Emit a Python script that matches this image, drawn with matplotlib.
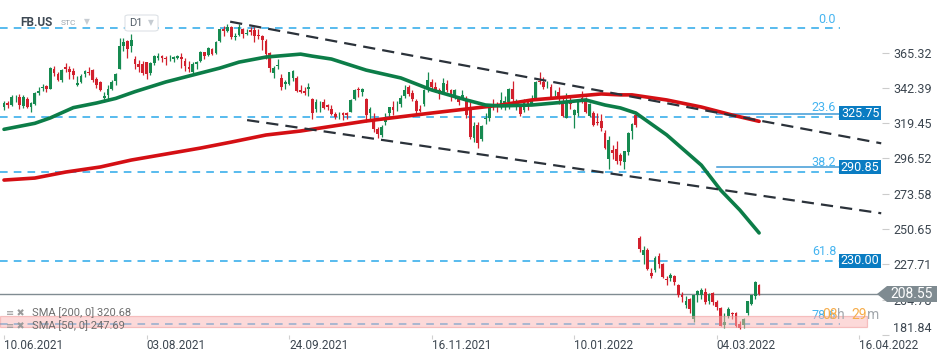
import numpy as np
import matplotlib.pyplot as plt
from matplotlib.patches import Rectangle, FancyBboxPatch, Polygon

plt.rcParams['font.family'] = ['Roboto', 'DejaVu Sans']

# daily candles FB.US, 10.06.2021 .. 21.03.2022
opens = [
    330.3, 332.9, 331.5, 336.3, 336.7, 330.9, 334.9, 329.8, 332.2, 339.1, 342.1, 343.9, 342.0, 354.6, 351.2,
    347.7, 356.0, 355.0, 353.2, 344.6, 346.0, 351.2, 352.3, 354.0, 348.0, 346.0, 336.0, 337.9, 342.0, 347.0, 355.0, 370.0, 372.9, 369.6, 361.0, 358.0,
    357.9, 359.0, 351.9, 358.9, 362.0, 363.5, 362.0, 362.3, 361.4, 362.0, 362.5, 360.0, 356.0, 353.0, 358.0, 360.0, 365.6, 364.0, 367.6, 365.0, 373.0, 380.5,
    379.6, 382.0, 375.5, 377.0, 381.0, 377.5, 380.0, 380.0, 377.0, 376.0, 373.0, 365.0, 352.0, 357.0, 349.0, 345.0, 345.0, 349.0, 349.0, 341.0, 340.5,
    341.6, 335.5, 328.6, 329.7, 333.5, 331.5, 329.0, 325.5, 324.5, 326.0, 326.0, 327.0, 335.0, 342.0, 340.0, 335.0, 326.0, 320.0, 316.0, 312.0, 320.0,
    326.0, 330.0, 331.0, 332.0, 337.0, 343.0, 339.0, 334.0, 329.0, 332.0, 343.0, 346.0, 343.0, 341.0, 339.0, 345.0, 341.0, 336.0, 335.0, 336.0, 335.0,
    328.0, 310.0, 318.0, 309.0, 322.0, 323.0, 330.0, 331.0, 330.0, 332.0, 333.0, 342.0, 331.0, 330.0, 328.0, 333.0, 332.0, 336.0, 347.0, 346.0, 344.0, 343.0,
    338.3, 339.9, 333.0, 322.8, 332.7, 325.0, 326.3, 336.0, 334.0, 324.0, 326.0, 320.0, 321.0, 313.0, 296.0, 302.0, 303.0, 299.0, 294.0, 301.0,
    314.6, 325.0, 244.6, 234.0, 237.0, 222.0, 224.0, 233.0, 228.0, 218.0, 219.0, 220.0, 214.0, 208.0, 201.0, 205.0, 192.0, 208.0, 208.0,
    210.0, 204.0, 209.0, 203.0, 199.0, 188.0, 194.0, 196.0, 196.0, 189.0, 188.0, 196.0, 202.0, 207.0, 214.5,
]
highs = [
    333.8, 333.6, 337.6, 337.6, 338.3, 337.9, 336.2, 333.0, 339.6, 342.7, 344.8, 344.0, 356.0, 356.4, 352.6,
    355.0, 358.8, 356.7, 355.4, 350.0, 351.2, 354.4, 356.1, 355.0, 349.5, 346.7, 339.8, 344.0, 347.5, 351.8, 375.0, 374.8, 373.5, 377.6, 363.5, 360.7,
    360.0, 359.5, 359.5, 363.6, 365.0, 364.0, 362.9, 364.0, 363.3, 364.1, 365.0, 361.7, 359.8, 359.0, 360.0, 366.5, 366.0, 369.0, 368.5, 373.0, 381.0, 382.8,
    384.3, 382.8, 378.0, 384.3, 381.5, 381.0, 382.0, 382.0, 381.0, 377.0, 374.0, 366.0, 357.0, 361.0, 351.3, 347.7, 353.0, 354.0, 350.0, 344.0, 342.8,
    345.5, 335.9, 335.2, 334.0, 335.0, 332.0, 331.0, 326.5, 327.0, 327.0, 327.0, 335.0, 342.0, 343.0, 342.5, 336.0, 330.0, 326.0, 317.0, 318.0, 326.0,
    330.0, 334.0, 334.0, 338.0, 344.0, 344.5, 341.0, 335.5, 331.0, 342.0, 352.7, 348.0, 346.0, 342.5, 349.0, 347.5, 342.0, 342.0, 337.0, 341.0, 337.0,
    333.0, 320.0, 320.0, 318.0, 326.0, 332.0, 335.0, 333.0, 340.0, 337.0, 342.5, 347.0, 335.0, 331.5, 335.0, 334.0, 338.0, 347.0, 352.7, 349.5, 347.0, 345.0,
    341.1, 343.1, 335.8, 339.2, 337.0, 328.5, 334.6, 340.7, 336.6, 332.3, 327.5, 326.0, 325.7, 315.0, 311.0, 305.0, 307.8, 300.0, 301.7, 313.5,
    319.5, 327.0, 246.0, 239.9, 238.0, 225.0, 232.9, 235.0, 228.5, 220.0, 222.0, 220.5, 215.0, 209.5, 207.0, 206.0, 208.0, 211.0, 212.0,
    212.0, 209.0, 210.0, 204.5, 200.0, 196.0, 200.0, 197.0, 197.0, 191.0, 193.0, 204.0, 208.0, 217.0, 215.0,
]
lows = [
    328.0, 329.5, 330.6, 333.0, 329.0, 329.4, 329.5, 327.0, 331.0, 338.1, 340.4, 340.0, 341.4, 350.2, 346.6,
    346.5, 353.0, 348.5, 347.9, 343.5, 345.3, 349.5, 351.0, 346.5, 342.3, 340.6, 333.0, 335.0, 340.8, 344.0, 354.5, 366.7, 362.0, 366.0, 355.0, 352.5,
    350.5, 348.5, 351.0, 357.3, 360.8, 359.0, 357.5, 360.0, 359.0, 361.0, 355.5, 353.5, 353.0, 351.5, 354.5, 359.0, 361.5, 363.2, 363.8, 364.5, 372.0, 376.5,
    378.5, 374.5, 373.5, 376.5, 375.0, 376.6, 377.0, 372.0, 374.5, 367.0, 361.0, 353.0, 349.0, 355.0, 341.0, 342.0, 344.0, 347.0, 339.5, 339.0, 338.0,
    337.0, 322.2, 327.0, 326.6, 329.0, 328.0, 325.0, 322.0, 322.5, 321.7, 322.0, 326.7, 334.5, 336.5, 337.0, 320.5, 321.0, 314.0, 310.0, 310.5, 318.0,
    323.0, 325.0, 327.5, 330.0, 336.0, 337.0, 334.0, 325.0, 326.5, 330.5, 340.0, 341.0, 340.0, 335.0, 338.5, 340.0, 334.0, 335.0, 331.0, 335.0, 323.0,
    309.5, 307.0, 303.5, 308.0, 319.0, 321.0, 328.0, 327.0, 329.0, 328.0, 329.0, 332.0, 328.0, 324.0, 327.0, 328.0, 331.5, 335.5, 345.0, 341.5, 342.5, 336.0,
    337.2, 331.9, 323.8, 322.7, 328.9, 316.3, 324.3, 332.5, 326.3, 323.5, 317.9, 318.0, 314.6, 303.0, 289.6, 296.0, 292.7, 292.0, 290.0, 299.0,
    309.5, 316.7, 236.0, 228.1, 224.0, 218.6, 223.0, 225.5, 218.5, 214.0, 217.0, 214.0, 206.5, 203.0, 199.0, 196.0, 190.2, 203.0, 205.0,
    202.0, 202.0, 201.0, 198.0, 187.3, 186.0, 193.0, 192.0, 186.7, 185.8, 186.0, 195.0, 201.0, 205.0, 208.0,
]
closes = [
    332.5, 331.3, 336.8, 336.8, 331.1, 336.5, 329.7, 332.3, 339.0, 340.6, 343.2, 341.4, 355.6, 351.9, 347.7,
    354.4, 354.7, 352.8, 350.5, 345.7, 350.4, 353.2, 352.1, 347.6, 344.5, 341.2, 337.0, 341.7, 346.2, 351.2, 369.8, 372.5, 367.8, 373.3, 358.3, 356.3,
    351.9, 351.2, 358.9, 363.0, 363.5, 361.6, 361.2, 362.7, 362.3, 363.2, 361.2, 356.6, 355.0, 358.2, 359.4, 365.5, 363.4, 368.4, 364.4, 372.6, 380.7, 379.4,
    382.1, 375.3, 376.3, 382.2, 377.6, 378.0, 378.7, 376.5, 376.5, 373.9, 364.7, 355.6, 355.7, 357.5, 343.2, 346.0, 353.0, 353.6, 340.7, 339.6, 339.4,
    343.0, 326.2, 333.0, 330.1, 329.2, 330.1, 325.5, 323.8, 324.9, 324.8, 324.8, 334.4, 341.1, 340.8, 341.9, 324.6, 328.7, 315.8, 312.2, 316.9, 323.6,
    330.0, 328.1, 331.6, 335.9, 341.1, 338.6, 335.4, 327.6, 327.7, 340.9, 347.6, 343.0, 340.8, 338.7, 345.3, 341.0, 337.3, 341.1, 333.1, 338.0, 324.5,
    310.6, 317.9, 306.8, 317.9, 322.8, 330.6, 329.8, 329.8, 334.5, 333.7, 341.7, 334.9, 333.8, 325.5, 334.2, 330.5, 335.2, 346.2, 346.2, 342.9, 344.4, 336.4,
    338.5, 336.5, 324.2, 332.5, 331.8, 328.1, 334.4, 333.3, 326.5, 331.9, 318.2, 319.6, 316.6, 303.2, 308.7, 300.2, 294.6, 294.6, 301.7, 313.3,
    319.0, 318.5, 237.8, 237.1, 224.9, 220.2, 232.0, 228.1, 219.6, 217.7, 221.0, 216.5, 207.7, 206.2, 204.0, 198.5, 207.6, 210.5, 211.0,
    203.5, 208.1, 203.0, 200.1, 187.5, 190.3, 198.5, 195.2, 187.6, 186.6, 192.0, 203.6, 207.8, 216.5, 208.6,
]

# moving averages, read at a few bar positions
sma50_bar = [0, 8, 12, 18, 24, 29, 34, 42, 49, 56, 61, 68, 77, 80, 85, 94, 103, 111, 120, 125, 129, 137, 146, 151, 156, 160, 164, 172, 181, 186, 191, 196]
sma50_val = [315.5, 319.4, 322.9, 329.6, 332.6, 335.6, 340.0, 346.3, 350.8, 355.3, 359.2, 362.5, 364.4, 363.1, 361.2, 354.0, 348.9, 341.1,
             334.6, 331.3, 330.7, 331.3, 333.3, 334.6, 331.3, 329.4, 326.1, 311.9, 292.2, 276.0, 263.0, 248.1]
sma200_bar = [0, 8, 16, 25, 33, 42, 51, 59, 68, 77, 82, 94, 111, 120, 129, 137, 146, 155, 160, 163, 172, 181, 189, 196]
sma200_val = [282.5, 283.8, 287.7, 291.0, 295.5, 299.4, 303.3, 307.2, 311.8, 314.4, 316.3, 320.9, 326.1, 328.7, 331.3, 334.6,
              336.5, 338.5, 337.9, 337.9, 334.6, 330.0, 324.8, 320.7]

# drawn objects
channel_top_bar = [58.7, 227.7]
channel_top_val = [385.5, 306.4]
channel_low_bar = [63.1, 227.7]
channel_low_val = [321.5, 260.9]
fib_names = ['0.0', '23.6', '38.2', '61.8', '78.6']
fib_levels = [381.2, 323.7, 287.9, 229.7, 188.7]
marked_levels = [325.75, 290.85]
box_levels = [325.75, 290.85, 230.00]
last_price = 208.55
zone = (186.7, 194.3)

date_pos = [0, 37, 74, 111, 148, 185, 222]
date_labels = ['10.06.2021', '03.08.2021', '24.09.2021', '16.11.2021', '10.01.2022', '04.03.2022', '16.04.2022']
price_ticks = [365.32, 342.39, 319.45, 296.52, 273.58, 250.65, 227.71, 204.78, 181.84]

W, H = 950, 360
GREEN = '#168a50'
RED = '#d2202d'
FIB = '#2aa8ea'

fig = plt.figure(figsize=(W / 100, H / 100), dpi=100)
ax = fig.add_axes([0, 25 / H, 882 / W, 335 / H])
ax.set_xlim(-1.04, 227.9)
ax.set_ylim(181.73, 399.6)

o = np.array(opens)
h = np.array(highs)
l = np.array(lows)
c = np.array(closes)
x = np.arange(len(c))
col = np.where(c >= o, GREEN, RED)

ax.vlines(x, l, h, colors=col, lw=0.9, zorder=3)
ax.bar(x, np.maximum(np.abs(c - o), 0.4), bottom=np.minimum(o, c), width=0.72,
       color=col, lw=0, zorder=4)

# fibo levels
for name, lvl in zip(fib_names, fib_levels):
    ax.plot([-1.04, 217], [lvl, lvl], color=FIB, lw=1.1, ls=(0, (5, 4)), zorder=1)
    ax.annotate(name, (216, lvl), xytext=(0, 2), textcoords='offset points',
                ha='right', va='bottom', color='#45b4f0', fontsize=9)

for lvl in marked_levels:
    ax.plot([185.1, 216.8], [lvl, lvl], color='#3f9ad6', lw=1.1, zorder=2)

ax.axhline(last_price, color='#808c92', lw=1, zorder=2)

ax.plot(sma200_bar, sma200_val, color='#d40f14', lw=2.6, zorder=5, solid_capstyle='round')
ax.plot(sma50_bar, sma50_val, color='#0c7d48', lw=2.6, zorder=5, solid_capstyle='round')

ax.plot(channel_top_bar, channel_top_val, color='#2b323a', lw=1.6, ls=(0, (5.5, 3.2)), zorder=6)
ax.plot(channel_low_bar, channel_low_val, color='#2b323a', lw=1.6, ls=(0, (5.5, 3.2)), zorder=6)

ax.add_patch(Rectangle((-1.04, zone[0]), 225.0, zone[1] - zone[0], facecolor='#fbb4b4',
                       alpha=0.5, edgecolor='#ee9090', lw=0.9, zorder=7))

# blue value boxes at the right
for lvl in box_levels:
    ax.add_patch(Rectangle((216.8, lvl - 4.5), 10.9, 9.1, facecolor='#0a7cc2', lw=0,
                           zorder=8, clip_on=False))
    ax.text(222.25, lvl, f'{lvl:.2f}', color='white', fontsize=9, ha='center',
            va='center', zorder=9, clip_on=False)

# axes styling
for s in ax.spines.values():
    s.set_visible(False)
ax.yaxis.tick_right()
ax.set_yticks(price_ticks, [f'{v:.2f}' for v in price_ticks])
ax.tick_params(axis='y', length=5, color='#cccccc', labelsize=9, labelcolor='#3c4650', pad=3)
ax.get_yticklabels()[-1].set_va('bottom')
ax.set_xticks(date_pos, date_labels)
ax.tick_params(axis='x', length=3, color='#d0d0d0', labelsize=8.5, labelcolor='#3c4650', pad=0)
for lab in ax.get_xticklabels():
    lab.set_ha('left')


def fx(px):
    return px / W


def fy(py):
    return 1 - py / H


# current price tag
tag = [(877, 294), (887, 286), (937, 286), (937, 302), (887, 302)]
fig.add_artist(Polygon([(fx(a), fy(b)) for a, b in tag], closed=True,
                       facecolor='#7f8b91', edgecolor='none', transform=fig.transFigure, zorder=10))
fig.text(fx(912), fy(294), f'{last_price:.2f}', color='white', fontsize=10,
         ha='center', va='center', zorder=11)

# header
fig.text(fx(20), fy(22), 'FB.US', fontsize=8.5, weight='bold', color='#3d4853', va='center')
fig.text(fx(61), fy(23), 'STC', fontsize=6, color='#9aa4ad', va='center')
fig.text(fx(84), fy(22), '▼', fontsize=5.5, color='#c6ccd2', va='center')
fig.add_artist(FancyBboxPatch((fx(125), fy(31)), fx(33), 16 / H,
                              boxstyle='round,pad=0,rounding_size=0.004',
                              facecolor='white', edgecolor='#dde2e6', lw=0.8,
                              transform=fig.transFigure))
fig.text(fx(129), fy(23), 'D1', fontsize=8, color='#55606a', va='center')
fig.text(fx(148), fy(23), '▼', fontsize=5.5, color='#c6ccd2', va='center')

# indicator legend
fig.text(fx(6), fy(313), '≡ ✖', fontsize=7, color='#9a9a9a', va='center')
fig.text(fx(32), fy(313), 'SMA [200, 0] 320.68', fontsize=8, color='#6e6e6e', va='center')
fig.text(fx(6), fy(326), '≡ ✖', fontsize=7, color='#9a9a9a', va='center')
fig.text(fx(32), fy(326), 'SMA [50, 0] 247.69', fontsize=8, color='#6e6e6e', va='center')

# countdown
fig.text(fx(822), fy(315), '08', fontsize=10, color='#f6ad4c', va='center')
fig.text(fx(837), fy(315), 'h', fontsize=10, color='#a3a8ad', va='center')
fig.text(fx(851), fy(315), '29', fontsize=10, color='#f6ad4c', va='center')
fig.text(fx(867), fy(315), 'm', fontsize=10, color='#a3a8ad', va='center')

fig.savefig('out.png', dpi=100)
